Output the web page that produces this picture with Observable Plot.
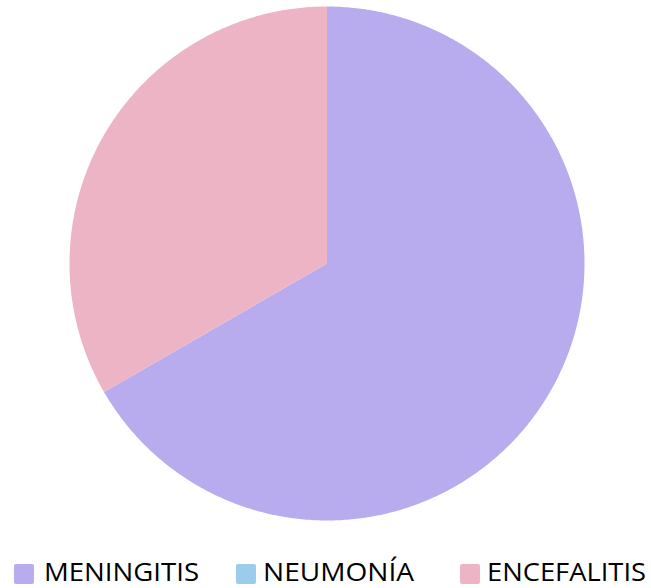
<!DOCTYPE html>
<html>
<head>
<meta charset="utf-8">
<script src="https://cdn.jsdelivr.net/npm/d3@7"></script>
<script src="https://cdn.jsdelivr.net/npm/@observablehq/plot@0.6"></script>
<style>
  html, body { margin: 0; padding: 0; background: #fff; }
  #chart svg { display: block; }
  #legend { display: block; overflow: visible; }
</style>
</head>
<body>
<div id="chart"></div>
<svg id="legend" width="651" height="48"></svg>
<script>
const categories = ["MENINGITIS", "NEUMONÍA", "ENCEFALITIS"];
const values = [2, 0, 1];
const colors = ["#B8ABEE", "#9BCCEC", "#EDB4C6"];

const data = categories.map((c, i) => ({name: c, value: values[i]}));
const arcs = d3.pie().sort(null).value(d => d.value)(data);

// Build slice outlines in unit-circle data space (angle 0 at top, clockwise)
const pts = [];
arcs.forEach(a => {
  if (a.endAngle - a.startAngle <= 0) return;
  const name = a.data.name;
  pts.push({name, x: 0, y: 0});
  const n = Math.max(2, Math.ceil((a.endAngle - a.startAngle) / (Math.PI / 360)));
  for (let k = 0; k <= n; k++) {
    const t = a.startAngle + (a.endAngle - a.startAngle) * k / n;
    pts.push({name, x: Math.sin(t), y: Math.cos(t)});
  }
  pts.push({name, x: 0, y: 0});
});

const chart = Plot.plot({
  width: 651,
  height: 540,
  marginLeft: 69,
  marginRight: 67,
  marginTop: 6,
  marginBottom: 20,
  x: {domain: [-1, 1], axis: null},
  y: {domain: [-1, 1], axis: null},
  color: {domain: categories, range: colors},
  marks: [
    Plot.line(pts, {x: "x", y: "y", z: "name", fill: "name", stroke: "none", curve: "linear"})
  ]
});
document.getElementById("chart").appendChild(chart);

// Legend
const legendItems = [
  {sq: 14, tx: 44, tw: 155},
  {sq: 236, tx: 263, tw: 151},
  {sq: 460, tx: 487, tw: 159}
];
const color = chart.scale("color");
const lg = d3.select("#legend");
categories.forEach((c, i) => {
  const it = legendItems[i];
  lg.append("rect").attr("x", it.sq).attr("y", 24).attr("width", 20).attr("height", 20)
    .attr("rx", 2).attr("fill", color.apply(c));
  lg.append("text").attr("x", it.tx).attr("y", 41)
    .attr("font-family", "'Open Sans', sans-serif").attr("font-size", 26)
    .attr("fill", "#000")
    .attr("textLength", it.tw).attr("lengthAdjust", "spacingAndGlyphs")
    .text(c);
});
</script>
</body>
</html>
